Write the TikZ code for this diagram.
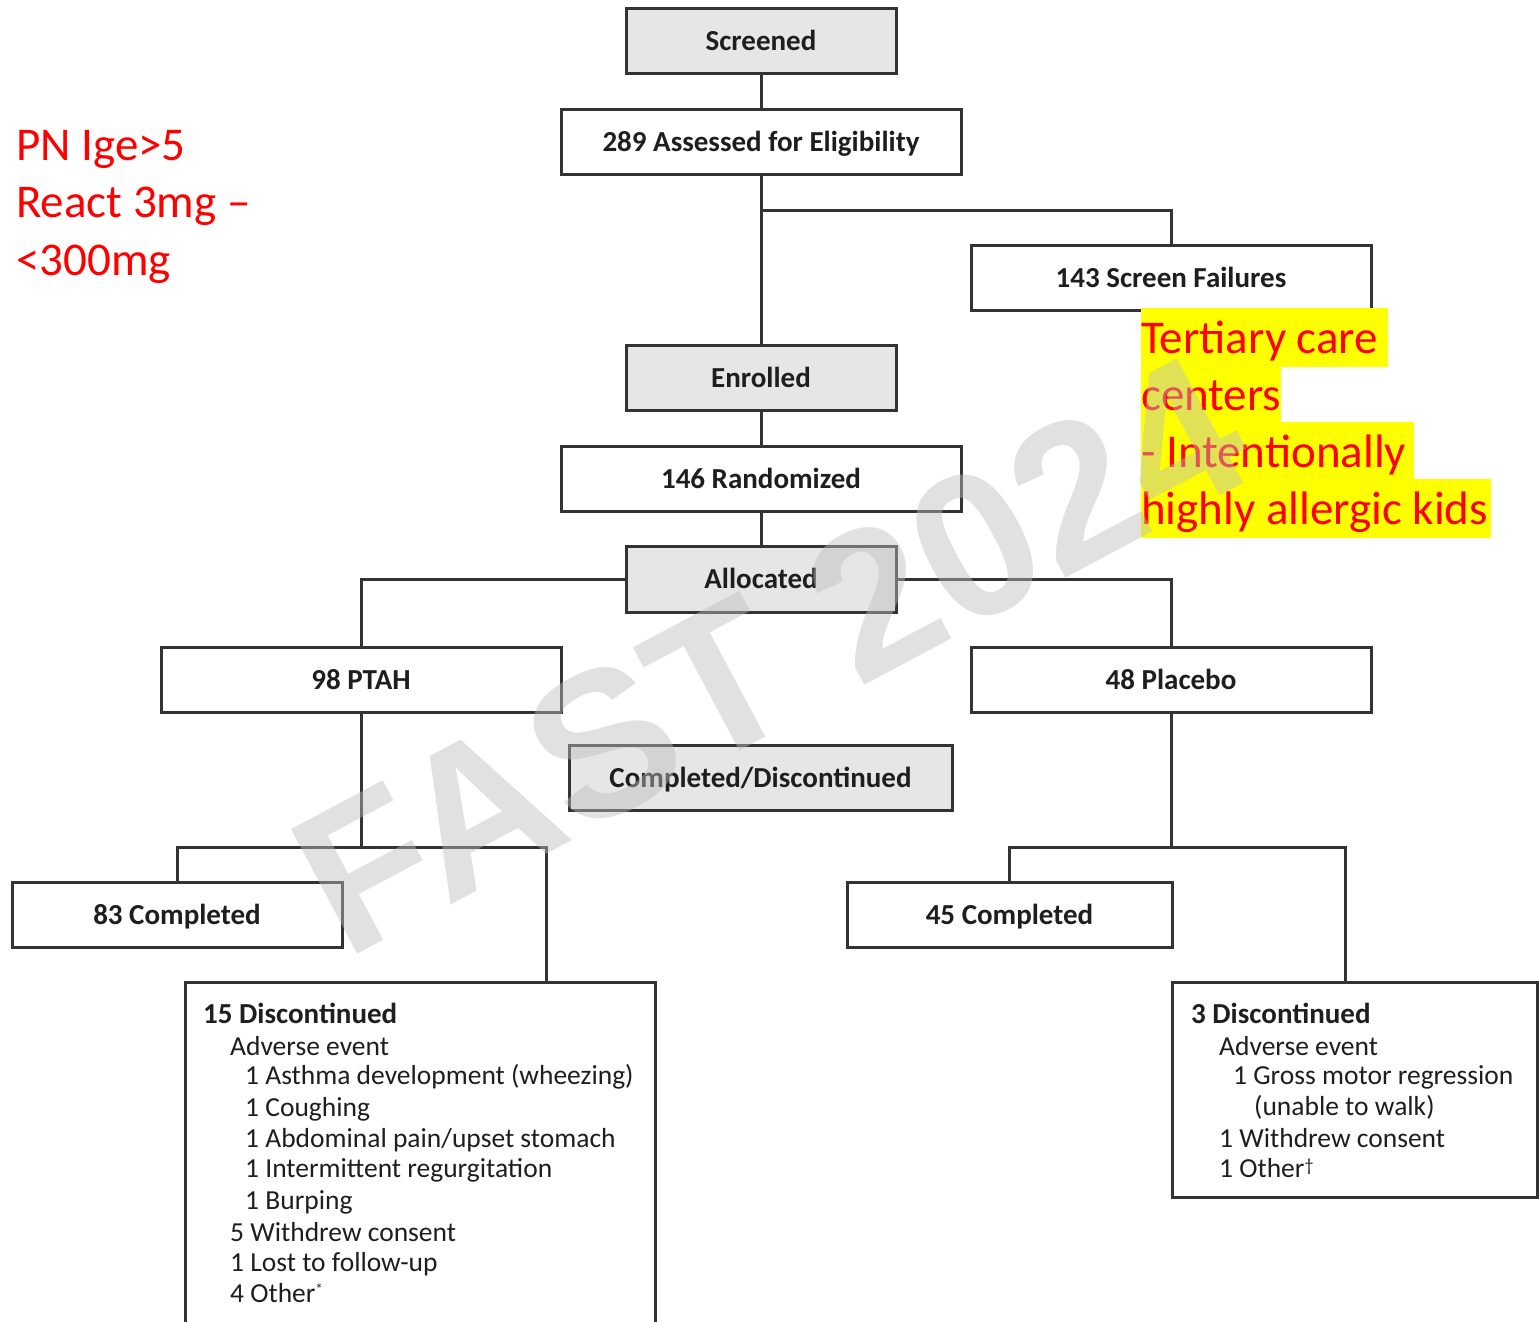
\documentclass[tikz,border=0pt]{standalone}
\usepackage{fontspec}
\setmainfont{Carlito}
\newfontfamily\wmfont{Liberation Sans}
\definecolor{lineC}{HTML}{333333}
\definecolor{txtC}{HTML}{1E1E1E}
\definecolor{boxG}{HTML}{E6E6E6}
\definecolor{wmC}{RGB}{190,190,190}
\definecolor{noteR}{HTML}{FF0000}
\definecolor{hlY}{HTML}{FFFF00}
\begin{document}
\begin{tikzpicture}[x=1pt,y=-1pt,
  box/.style={draw=lineC, line width=3pt, fill=white, inner sep=0pt,
    minimum height=65pt, text height=19pt, text depth=0pt,
    font=\fontsize{29}{31}\selectfont\bfseries, text=txtC},
  gbox/.style={box, fill=boxG},
  conn/.style={draw=lineC, line width=3pt},
  item/.style={anchor=base west, inner sep=0pt, text=txtC, font=\fontsize{27.5}{31}\selectfont},
  ititle/.style={item, font=\fontsize{29}{31}\selectfont\bfseries},
  note/.style={anchor=base west, inner sep=0pt, text=noteR, font=\fontsize{47}{57}\selectfont},
  hl/.style={note, fill=hlY, text height=45pt, text depth=14pt}
]
\useasboundingbox (0,0) rectangle (1539,1322);
\fill[white] (0,0) rectangle (1539,1322);

% main boxes
\node[gbox, minimum width=270pt] (screened) at (761,41.5) {Screened};
\node[box, minimum width=400pt] (assessed) at (761,141.5) {289 Assessed for Eligibility};
\node[box, minimum width=400pt] (failures) at (1171,277.5) {143 Screen Failures};
\node[gbox, minimum width=270pt] (enrolled) at (761,377.5) {Enrolled};
\node[box, minimum width=400pt] (random) at (761,478.5) {146 Randomized};
\node[gbox, minimum width=270pt, minimum height=66pt] (alloc) at (761,579) {Allocated};
\node[box, minimum width=400pt] (ptah) at (361,679.5) {98 PTAH};
\node[box, minimum width=400pt] (placebo) at (1171,679.5) {48 Placebo};
\node[gbox, minimum width=383pt] (compdisc) at (760.5,777.5) {Completed/Discontinued};
\node[box, minimum width=330pt] (c83) at (177,914.5) {83 Completed};
\node[box, minimum width=325pt] (c45) at (1009.5,914.5) {45 Completed};
\node[box, minimum width=470pt, minimum height=346pt] (d15) at (420,1155) {};
\node[box, minimum width=365pt, minimum height=215pt] (d3) at (1354.5,1089.5) {};

% junction coordinates
\coordinate (j0) at (761,210);
\coordinate (j1) at (361,847);
\coordinate (j2) at (1171,847);
\coordinate (d15top) at (546,982);
\coordinate (d3top) at (1345,982);

% connectors
\draw[conn] (screened) -- (assessed);
\draw[conn] (assessed) -- (enrolled);
\draw[conn] (j0) -| (failures.north);
\draw[conn] (enrolled) -- (random);
\draw[conn] (random) -- (alloc);
\draw[conn] (alloc.west) -| (ptah.north);
\draw[conn] (alloc.east) -| (placebo.north);
\draw[conn] (ptah.south) -- (j1);
\draw[conn] (c83.north) |- (j1) -| (d15top);
\draw[conn] (placebo.south) -- (j2);
\draw[conn] (c45.north) |- (j2) -| (d3top);

% 15 discontinued text
\node[ititle] (d15t) at (203,1023) {15 Discontinued};
\node[item] (d15a) at (230,1055) {Adverse event};
\node[item] (d15b) at (245,1084) {1 Asthma development (wheezing)};
\node[item] (d15c) at (245,1116) {1 Coughing};
\node[item] (d15d) at (245,1147) {1 Abdominal pain/upset stomach};
\node[item] (d15e) at (245,1177) {1 Intermittent regurgitation};
\node[item] (d15f) at (245,1209) {1 Burping};
\node[item] (d15g) at (230,1241) {5 Withdrew consent};
\node[item] (d15h) at (230,1271) {1 Lost to follow-up};
\node[item] (d15i) at (230,1302) {4 Other\raisebox{8pt}{\fontsize{15}{15}\selectfont *}};

% 3 discontinued text
\node[ititle] (d3t) at (1191,1023) {3 Discontinued};
\node[item] (d3a) at (1219,1055) {Adverse event};
\node[item] (d3b) at (1233,1084) {1 Gross motor regression};
\node[item] (d3c) at (1254,1115) {(unable to walk)};
\node[item] (d3d) at (1219,1147) {1 Withdrew consent};
\node[item] (d3e) at (1219,1177) {1 Other\raisebox{6pt}{\fontsize{18}{18}\selectfont †}};

% red notes
\node[note] (n1) at (16,160) {PN Ige>5};
\node[note] (n2) at (16,217) {React 3mg –};
\node[note] (n3) at (16,275) {<300mg};

\node[hl] (h1) at (1141,353) {Tertiary care\kern10pt};
\node[hl] (h2) at (1141,410) {centers};
\node[hl] (h3) at (1141,467) {- Intentionally\kern8pt};
\node[hl] (h4) at (1141,524) {highly allergic kids\kern3pt};

% watermark
\node[rotate=28, inner sep=0pt, text=wmC, opacity=0.45,
  font=\fontsize{205}{205}\wmfont\bfseries] (wm) at (770,655) {FAST 2024};
\end{tikzpicture}
\end{document}
